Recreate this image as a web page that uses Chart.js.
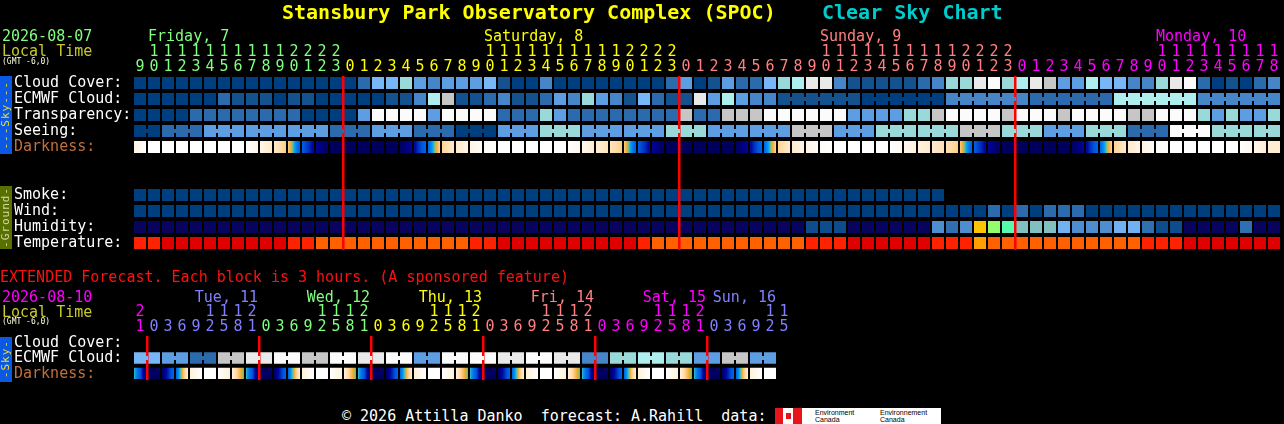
<!DOCTYPE html>
<html>
<head>
<meta charset="utf-8">
<title>Clear Sky Chart</title>
<script src="https://cdn.jsdelivr.net/npm/chart.js@4.4.1/dist/chart.umd.min.js"></script>
<style>
  html, body { margin: 0; padding: 0; background: #000; }
  body { position: relative; width: 1284px; height: 424px; overflow: hidden; font-family: 'DejaVu Sans Mono', monospace; }
  canvas { position: absolute; left: 0; display: block; }
  .txt { position: absolute; white-space: pre; font-size: 15px; line-height: 15px; }
  .title { position: absolute; top: 2px; white-space: pre; font-size: 20px; line-height: 20px; font-weight: bold; }
  .gmt { position: absolute; left: 2px; white-space: pre; font-size: 8px; line-height: 8px; color: #FFFFE0; }
  .side { position: absolute; left: 0; width: 12px; display: flex; align-items: center; justify-content: center; overflow: hidden; }
  .side span { writing-mode: vertical-rl; transform: rotate(180deg); font-size: 11px; line-height: 12px; letter-spacing: 1px; white-space: pre; }
  #logo { position: absolute; left: 775px; top: 408px; width: 166px; height: 16px; background: #fff; }
  #logo div { position: absolute; }
  #logo .red { top: 0; height: 16px; background: #E8141C; }
  #logo .word { top: 1px; font: 7px/7px 'Liberation Sans', sans-serif; color: #000; white-space: pre; }
</style>
</head>
<body>
<canvas id="main" width="1284" height="260" style="top:0"></canvas>
<canvas id="ext" width="1284" height="130" style="top:260px"></canvas>

<div class="title" style="left:282px;color:#FFFF00">Stansbury Park Observatory Complex (SPOC)</div>
<div class="title" style="left:822px;color:#00CCCC">Clear Sky Chart</div>

<div class="txt" style="left:2px;top:29px;color:#80FF80">2026-08-07</div>
<div class="txt" style="left:2px;top:44px;color:#C8C832">Local Time</div>
<div class="gmt" style="top:58px">(GMT -6,0)</div>

<div class="side" style="top:76px;height:78px;background:#0A58E4"><span style="color:#EEDD33">---Sky---</span></div>
<div class="side" style="top:186px;height:63px;background:#587000"><span style="color:#D8D8A0">-Ground-</span></div>

<div class="txt" style="left:0;top:270px;color:#FF1010">EXTENDED Forecast. Each block is 3 hours. (A sponsored feature)</div>
<div class="txt" style="left:2px;top:290px;color:#FF00FF">2026-08-10</div>
<div class="txt" style="left:2px;top:305px;color:#C8C832">Local Time</div>
<div class="gmt" style="top:318px">(GMT -6,0)</div>
<div class="side" style="top:337px;height:45px;background:#0A58E4"><span style="color:#EEDD33">-Sky-</span></div>

<div class="txt" style="left:342px;top:409px;color:#FFFFFF">© 2026 Attilla Danko  forecast: A.Rahill  data:</div>
<div id="logo">
  <div class="red" style="left:0;width:8px"></div>
  <div style="left:11px;top:5px;width:5px;height:6px;background:#E8141C"></div>
  <div class="red" style="left:18px;width:9px"></div>
  <div class="word" style="left:40px">Environment
Canada</div>
  <div class="word" style="left:105px">Environnement
Canada</div>
</div>

<script>
// ---------- main panel: one column per hour, Fri 9h .. Mon 18h ----------
const mainHours = [
  9,10,11,12,13,14,15,16,17,18,19,20,21,22,23,
  0,1,2,3,4,5,6,7,8,9,10,11,12,13,14,15,16,17,18,19,20,21,22,23,
  0,1,2,3,4,5,6,7,8,9,10,11,12,13,14,15,16,17,18,19,20,21,22,23,
  0,1,2,3,4,5,6,7,8,9,10,11,12,13,14,15,16,17,18
];
const mainDays = ['Friday, 7', 'Saturday, 8', 'Sunday, 9', 'Monday, 10'];

// cloud cover, percent
const cloudCover = [
  0,0,0,0,0,0,0,0,0,0,0,0,0,0,0,
  0,20,50,50,60,40,30,40,40,40,50,10,0,0,30,0,0,0,0,0,0,0,0,20,
  40,0,10,40,20,20,50,60,70,90,90,30,10,10,10,10,10,20,30,60,60,90,100,60,
  70,90,80,40,40,70,50,50,30,30,60,90,100,20,0,10,0,20,30
];
// ECMWF cloud, percent: hourly first, then 6-hour blocks
const ecmwfHourly = [
  0,0,0,0,0,0,20,10,10,10,0,10,10,0,0,
  0,0,0,10,10,30,70,80,10,10,20,30,10,10,20,40,30,60,40,30,10,50,20,10,
  10,90,40,70,40,30,30
];
const ecmwf6h = [10, 0, 30, 20, 70, 30];
// transparency and seeing: 5 best .. 1 poor, 0 too cloudy to forecast
const transparency = [
  5,5,5,5,4,4,4,4,4,4,4,4,5,5,5,
  5,3,0,0,0,0,3,0,0,0,0,4,4,4,2,3,4,4,4,4,4,4,4,4,
  1,4,4,1,1,1,0,0,0,0,0,0,3,3,3,3,2,2,1,0,0,0,0,1,
  0,0,0,1,0,0,0,0,1,1,0,0,0,2,3,2,3,3,2
];
const seeing3h = [5,4,3,3,3,4,3,4,5,3,2,3,3,2,3,3,1,3,2,2,1,2,3,2,4,0,2,2];
// darkness, limiting magnitude at the start of each hour
const darkness = [
  -3.2,-4,-4,-4,-4,-4,-4,-4,-4,-3.4,-2.6,-1.3,2.8,4.3,5.3,
  5.3,5.3,5.3,5.3,5.3,4.3,2.4,-1.5,-2.6,-3.3,-3.8,-4,-4,-4,-4,-4,-4,-3.5,-2.8,-2.3,-1.3,2.8,4.3,5.3,
  5.3,5.3,5.3,5.3,5.3,4.3,2.4,-1.5,-2.6,-3.3,-3.8,-4,-4,-4,-4,-4,-3.6,-3.1,-2.6,-2.1,-1.3,2.8,4.3,5.3,
  5.3,5.3,5.3,5.3,5.3,4.3,2.4,-1.5,-2.6,-3.3,-3.8,-4,-4,-4,-4,-4,-4,-3.5,-2.8
];
// smoke, ug/m3 (forecast ends Sunday 18h)
const smoke = [
  0,0,0,0,0,0,0,0,0,0,0,0,0,0,0,
  0,0,0,0,0,0,0,0,0,0,0,0,0,0,0,0,0,0,0,0,0,0,0,0,
  0,0,0,0,0,0,0,0,0,0,0,0,0,0,0,0,0,0,0
];
// wind, mph
const wind = [
  3,3,3,3,3,3,3,3,3,3,3,3,3,3,3,
  3,3,3,3,3,3,3,3,3,3,3,3,3,3,3,3,3,3,3,3,3,3,3,3,
  3,3,3,3,3,3,3,3,3,3,3,3,3,3,3,3,3,3,3,3,3,3,8,3,
  8,3,8,8,8,3,3,3,3,3,3,3,3,3,3,3,3,3,3
];
// humidity, percent
const humidity = [
  20,20,20,20,20,20,20,20,20,20,20,20,20,20,20,
  20,20,20,20,20,20,20,20,20,20,20,20,20,20,20,20,20,20,20,20,20,20,20,20,
  20,20,20,20,20,20,20,20,20,27,27,27,20,20,20,20,20,20,37,32,37,72,62,57,
  47,47,47,42,37,37,37,42,42,32,27,27,20,20,20,20,32,20,20
];
// temperature, F
const temperature = [
  90,90,98,98,98,98,98,98,98,98,98,90,90,81,81,
  81,81,81,81,81,81,81,81,81,90,90,98,98,98,98,98,98,98,98,98,98,90,81,81,
  81,81,81,81,81,81,81,81,81,90,90,90,98,98,98,98,98,98,90,90,90,75,81,81,
  81,81,81,81,81,81,81,81,81,90,90,90,98,98,98,98,98,98,98
];

// ---------- extended panel: one column per 3 hours, Mon 21h .. Sun 15h ----------
const extHours = [
  21,
  0,3,6,9,12,15,18,21,
  0,3,6,9,12,15,18,21,
  0,3,6,9,12,15,18,21,
  0,3,6,9,12,15,18,21,
  0,3,6,9,12,15,18,21,
  0,3,6,9,12,15
];
const extDays = ['', 'Tue, 11', 'Wed, 12', 'Thu, 13', 'Fri, 14', 'Sat, 15', 'Sun, 16'];
const extEcmwf6h = [50,40,20,80,90,100,80,100,90,100,40,100,100,90,100,90,30,60,70,60,40,80,40];
const extDarkness = [
  0.5,
  5.3,5.2,2.4,-3,-4,-4,-3,0.5,
  5.3,5.2,2.4,-3,-4,-4,-3,0.5,
  5.3,5.2,2.4,-3,-4,-4,-3,0.5,
  5.3,5.2,2.4,-3,-4,-4,-3,0.5,
  5.3,5.2,2.4,-3,-4,-4,-3,0.5,
  5.3,5.2,2.4,-3,-4
];

// ---------- colours ----------
const mainDayColors = ['#80FF80', '#FFFF00', '#FF8080', '#FF00FF'];
const extDayColors = ['#FF00FF', '#8080FF', '#80FF80', '#FFFF00', '#FF8080', '#FF00FF', '#8080FF'];
const cloudPalette = ['#003F7F','#13528F','#2B6BAD','#4585C8','#5D9DE1','#77B7F7','#99D9D9','#AEEEEE','#C6C6C6','#E9E9E9','#FBFBFB'];
const skyPalette = ['#FBFBFB','#C6C6C6','#99D9D9','#5D9DE1','#2B6BAD','#003F7F'];
const darkStops = [[-4,'#FFFFFF'],[-3.5,'#FFF7EC'],[-3,'#FFF0DA'],[-2.5,'#FFE8C8'],[-2,'#FFDFB0'],[-1.5,'#FFD494'],
  [-1,'#FDC070'],[-0.5,'#F4A838'],[0,'#C8B838'],[0.4,'#40C0B0'],[0.8,'#10A8F0'],[1.4,'#0088F0'],[2.2,'#0068E6'],
  [3,'#0058DC'],[3.6,'#0030C0'],[4.1,'#0008A0'],[4.6,'#00008A'],[5,'#000070'],[5.3,'#00005C'],[6.5,'#000010']];

const cloudColor = v => cloudPalette[Math.round(v / 10)];
const skyColor = v => skyPalette[v];
const smokeColor = v => (v < 2 ? '#003F7F' : v < 5 ? '#2B6BAD' : '#5D9DE1');
const windColor = v => skyPalette[v <= 5 ? 5 : v <= 11 ? 4 : v <= 16 ? 3 : v <= 28 ? 2 : v <= 45 ? 1 : 0];
function humidityColor(v) {
  const bins = [[25,'#08035D'],[30,'#0D4D8D'],[35,'#3070B0'],[40,'#4E8ECE'],[45,'#71B1F1'],[50,'#80C0C0'],
    [55,'#09FEED'],[60,'#55FAAD'],[65,'#94FE6A'],[70,'#EAFB16'],[75,'#FEC600'],[80,'#FC8602'],[85,'#FE3401'],[90,'#EA0000'],[101,'#B70000']];
  return bins.find(b => v < b[0])[1];
}
function tempColor(v) {
  if (v >= 95) return '#E00000';
  if (v >= 86) return '#FF2200';
  if (v >= 77) return '#FF6000';
  if (v >= 68) return '#FFA000';
  return '#FFD000';
}
function hex(c) { return [1, 3, 5].map(k => parseInt(c.slice(k, k + 2), 16)); }
function darkColor(m) {
  if (m <= darkStops[0][0]) return darkStops[0][1];
  for (let k = 1; k < darkStops.length; k++) {
    const [m1, c1] = darkStops[k];
    if (m <= m1) {
      const [m0, c0] = darkStops[k - 1], t = (m - m0) / (m1 - m0);
      const a = hex(c0), b = hex(c1);
      return 'rgb(' + a.map((x, j) => Math.round(x + (b[j] - x) * t)).join(',') + ')';
    }
  }
  return darkStops[darkStops.length - 1][1];
}

const BAR = 12 / 14;

// darkness cells shade from this hour's value toward the next one
function darkFill(vals) {
  return ctx => {
    const i = ctx.dataIndex, xs = ctx.chart.scales.x;
    if (i == null || vals[i] == null) return '#000';
    if (!xs || !xs.ticks || !xs.ticks.length) return darkColor(vals[i]);
    const cx = xs.getPixelForValue(i), half = xs.width / xs.ticks.length * BAR / 2;
    if (!isFinite(cx) || !isFinite(half) || half <= 0) return darkColor(vals[i]);
    const a = vals[i], b = vals[i + 1] == null ? a : vals[i + 1];
    const g = ctx.chart.ctx.createLinearGradient(cx - half, 0, cx + half, 0);
    for (let k = 0; k <= 8; k++) g.addColorStop(k / 8, darkColor(a + (b - a) * k / 8));
    return g;
  };
}

function blockIds(hours, from, isStart) {
  let id = 0;
  return hours.map((h, i) => (i === 0 || i < from || isStart(h) ? ++id : id));
}

const seeingIds = blockIds(mainHours, 0, h => h % 3 === 2);
const seeing = seeingIds.map(id => seeing3h[id - 1]);
const ecmwfIds = blockIds(mainHours, ecmwfHourly.length, h => h % 6 === 1);
const ecmwf = mainHours.map((_, i) => i < ecmwfHourly.length ? ecmwfHourly[i] : ecmwf6h[ecmwfIds[i] - ecmwfIds[ecmwfHourly.length]]);
const extEcmwfIds = blockIds(extHours, 0, h => h % 6 === 3);
const extEcmwf = extEcmwfIds.map(id => extEcmwf6h[id - 1]);

// ---------- plugins ----------
const midnightLines = {
  id: 'midnight',
  afterDatasetsDraw(chart, args, opts) {
    const xs = chart.scales.x, area = chart.chartArea, c = chart.ctx, h = opts.hours;
    const slot = xs.width / xs.ticks.length;
    c.save();
    c.fillStyle = '#FF0000';
    h.forEach((v, i) => {
      if (i > 0 && v < h[i - 1]) c.fillRect(xs.getPixelForValue(i) - slot / 2 - 1, area.top + 1, 2.5, area.bottom - area.top - 2);
    });
    c.restore();
  }
};
const joins = {
  id: 'joins',
  afterDatasetsDraw(chart) {
    const c = chart.ctx;
    chart.data.datasets.forEach((ds, di) => {
      if (!ds.blocks) return;
      const els = chart.getDatasetMeta(di).data;
      els.forEach((el, i) => {
        const nx = els[i + 1];
        if (!nx || ds.data[i] == null || ds.data[i + 1] == null || ds.blocks[i] !== ds.blocks[i + 1]) return;
        const x0 = el.x + el.width / 2, x1 = nx.x - nx.width / 2, mid = (el.y + el.base) / 2;
        c.fillStyle = ds.backgroundColor[i];
        c.fillRect(x0, mid - 2, x1 - x0, 4);
      });
    });
  }
};
const dayLabels = {
  id: 'dayLabels',
  afterDraw(chart, args, opts) {
    const xs = chart.scales.x, c = chart.ctx;
    const half = xs.width / xs.ticks.length * BAR / 2;
    c.save();
    c.font = '15px "DejaVu Sans Mono"';
    c.textBaseline = 'middle';
    opts.names.forEach((name, d) => {
      if (!name) return;
      const cols = opts.dayOf.map((dd, i) => (dd === d ? i : -1)).filter(i => i >= 0);
      c.fillStyle = opts.colors[d];
      if (opts.align === 'left') {
        const i = cols.find(k => opts.hours[k] >= 10);
        c.textAlign = 'left';
        c.fillText(name, xs.getPixelForValue(i) - half, opts.y);
      } else {
        const i = Math.min(cols[cols.length - 1], opts.lastData);
        c.textAlign = 'right';
        c.fillText(name, xs.getPixelForValue(i) + half, opts.y);
      }
    });
    c.restore();
  }
};

function makePanel(id, hours, dayNames, dayColors, rows, pad, align, dayY, lastData) {
  let d = 0;
  const dayOf = hours.map((h, i) => (i > 0 && h < hours[i - 1] ? ++d : d));
  const labels = hours.map(h => [h >= 10 ? String(Math.floor(h / 10)) : '', String(h % 10)]);
  const datasets = [];
  rows.forEach((row, r) => {
    if (!row.values) return;
    datasets.push({
      data: hours.map((_, i) => (row.values[i] == null ? null : [r, r + 1])),
      backgroundColor: row.dark ? darkFill(row.values) : hours.map((_, i) => (row.values[i] == null ? '#000' : row.color(row.values[i]))),
      blocks: row.blocks,
      grouped: false,
      barPercentage: BAR,
      categoryPercentage: 1,
      borderWidth: { top: 2, bottom: 2, left: 0, right: 0 },
      borderColor: '#000',
      borderSkipped: false,
      inflateAmount: 0
    });
  });
  const font = { family: 'DejaVu Sans Mono', size: 15 };
  return new Chart(document.getElementById(id), {
    type: 'bar',
    data: { labels, datasets },
    options: {
      responsive: false,
      animation: false,
      events: [],
      layout: { padding: pad },
      plugins: {
        legend: { display: false },
        tooltip: { enabled: false },
        midnight: { hours },
        dayLabels: { names: dayNames, colors: dayColors, dayOf, hours, align, y: dayY, lastData }
      },
      scales: {
        x: {
          position: 'top',
          grid: { display: false, drawTicks: false },
          border: { display: false },
          ticks: {
            autoSkip: false, maxRotation: 0, minRotation: 0, padding: -0.25,
            font: { family: font.family, size: 15, lineHeight: '15.5px' },
            color: c => dayColors[dayOf[c.index]]
          },
          afterFit: s => { s.height = 75; }
        },
        y: {
          type: 'linear', min: 0, max: rows.length, reverse: true,
          grid: { display: false, drawTicks: false },
          border: { display: false },
          afterBuildTicks: s => { s.ticks = rows.map((_, i) => ({ value: i + 0.5 })); },
          afterFit: s => { s.width = 119; },
          ticks: {
            autoSkip: false, crossAlign: 'far', padding: 0, labelOffset: 0.5, font,
            callback: (v, i) => rows[i].label,
            color: c => rows[c.index].labelColor || '#FFFFFF'
          }
        }
      }
    },
    plugins: [midnightLines, joins, dayLabels]
  });
}

makePanel('main', mainHours, mainDays, mainDayColors, [
  { label: 'Cloud Cover:', values: cloudCover, color: cloudColor },
  { label: 'ECMWF Cloud:', values: ecmwf, color: cloudColor, blocks: ecmwfIds },
  { label: 'Transparency:', values: transparency, color: skyColor },
  { label: 'Seeing:', values: seeing, color: skyColor, blocks: seeingIds },
  { label: 'Darkness:', values: darkness, dark: true, labelColor: '#C0703C' },
  { label: '' },
  { label: '' },
  { label: 'Smoke:', values: smoke, color: smokeColor },
  { label: 'Wind:', values: wind, color: windColor },
  { label: 'Humidity:', values: humidity, color: humidityColor },
  { label: 'Temperature:', values: temperature, color: tempColor }
], { top: 0, left: 14, right: 3, bottom: 9 }, 'left', 37.5, mainHours.length - 1);

makePanel('ext', extHours, extDays, extDayColors, [
  { label: 'Cloud Cover:' },
  { label: 'ECMWF Cloud:', values: extEcmwf, color: cloudColor, blocks: extEcmwfIds },
  { label: 'Darkness:', values: extDarkness, dark: true, labelColor: '#C0703C' }
], { top: 0, left: 14, right: 1284 - 133 - 14 * extHours.length, bottom: 7 }, 'right', 38, extDarkness.length - 1);
</script>
</body>
</html>
